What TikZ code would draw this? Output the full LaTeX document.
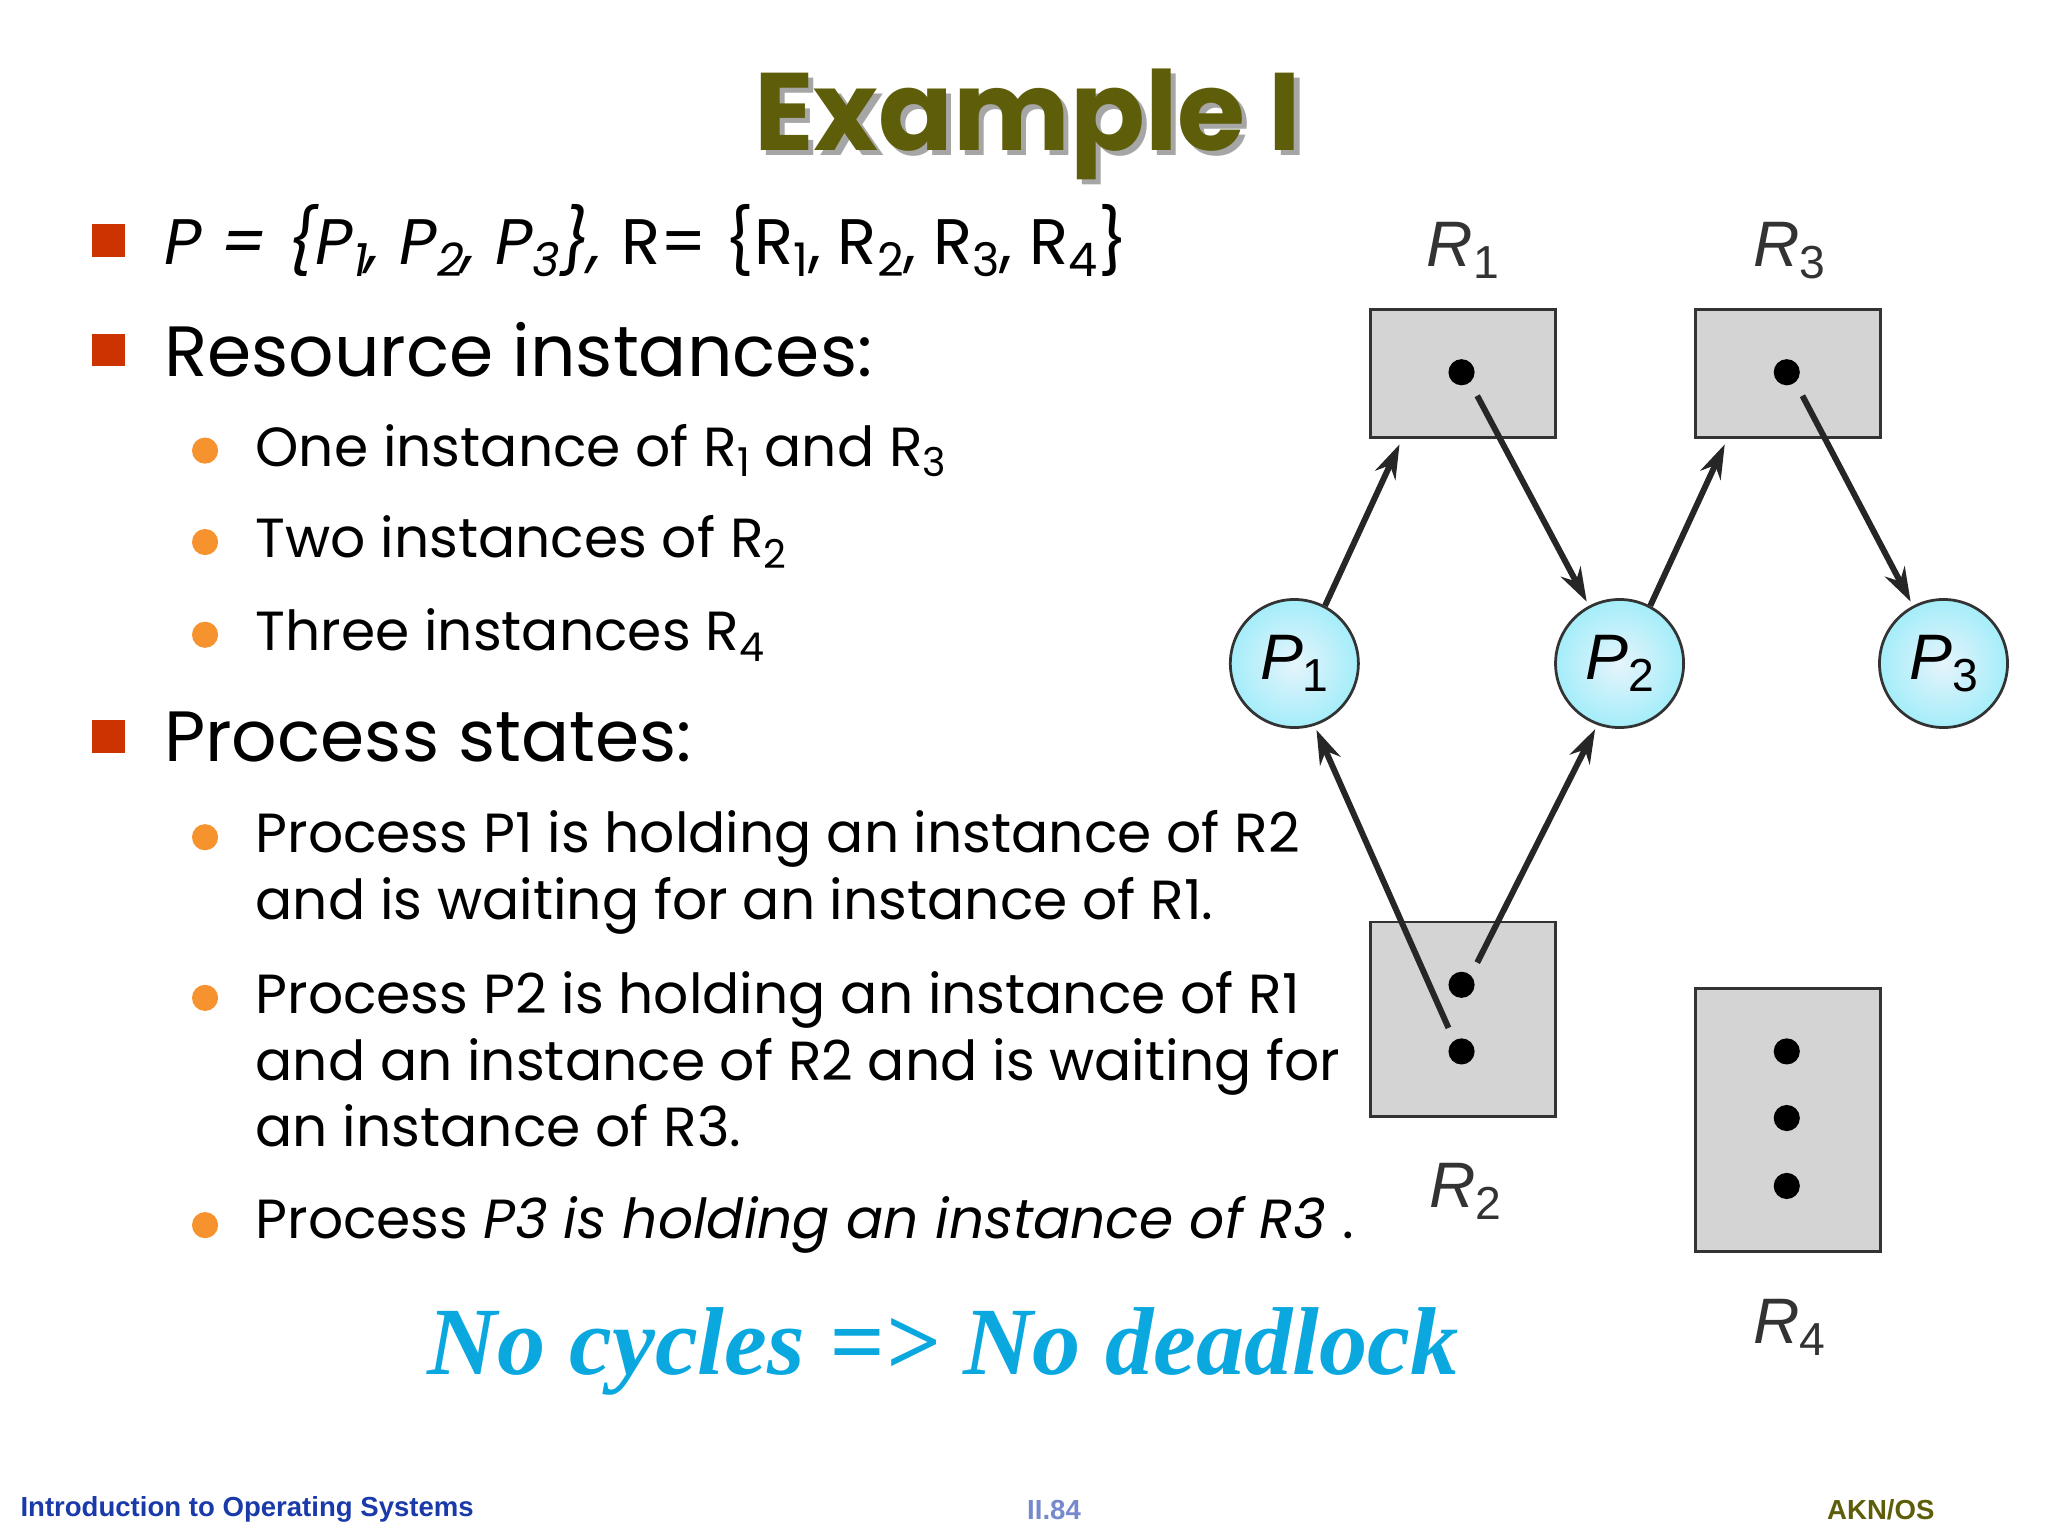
\documentclass[tikz,border=0pt]{standalone}
\usepackage{fontspec}
\setmainfont{Poppins}
\newfontfamily\lib{Liberation Sans}
\newfontfamily\libser{Liberation Serif}
\usetikzlibrary{arrows.meta,calc}
\newcommand{\sbs}[1]{\raisebox{-0.35ex}{\scalebox{0.72}{#1}}}
\definecolor{olive}{HTML}{5E5E0A}
\definecolor{bred}{HTML}{CC3300}
\definecolor{bor}{HTML}{F7932F}
\definecolor{cy}{HTML}{0BA8E0}
\definecolor{fblue}{HTML}{1A3AAA}
\definecolor{pfill}{HTML}{CDE9F8}
\begin{document}
\begin{tikzpicture}[x=0.01cm,y=-0.01cm,
  sq/.style={fill=bred,minimum size=0.25cm,inner sep=0pt},
  ci/.style={circle,fill=bor,minimum size=0.2cm,inner sep=0pt},
  t1/.style={anchor=west,font=\fontsize{15.5}{18}\selectfont,inner sep=0pt},
  t2/.style={anchor=west,font=\fontsize{12}{15}\selectfont,inner sep=0pt,align=left},
  box/.style={draw=black!80,fill=black!17,line width=0.6pt},
  dot/.style={circle,fill=black,minimum size=0.2cm,inner sep=0pt},
  proc/.style={circle,draw=black!80,line width=0.6pt,inner color=pfill!50,outer color=pfill!80!cyan,minimum size=0.98cm,inner sep=0pt,font=\lib\itshape\fontsize{14}{14}\selectfont},
  lab/.style={font=\lib\itshape\fontsize{14}{14}\selectfont,text=black!80},
  arr/.style={-{Stealth[length=0.26cm,width=0.17cm]},line width=1.3pt,black!85,shorten >=1pt}]
\useasboundingbox (0,0) rectangle (1568,1176);
% title
\node[font=\bfseries\fontsize{24}{26}\selectfont,text=black!35] (tsh) at (791,99) {Example I};
\node[font=\bfseries\fontsize{24}{26}\selectfont,text=olive] (title) at (787,95) {Example I};
% bullets
\node[sq] (b1) at (83,184) {};
\node[sq] (b2) at (83,268) {};
\node[sq] (b3) at (83,564) {};
\node[t1,font=\fontsize{14}{18}\selectfont] (l1) at (125,184) {\itshape P = \{P\sbs{1}, P\sbs{2}, P\sbs{3}\}, \upshape R= \{R\sbs{1}, R\sbs{2}, R\sbs{3}, R\sbs{4}\}};
\node[t1] (l2) at (125,268) {Resource instances:};
\node[t1] (l3) at (125,564) {Process states:};
\foreach \y [count=\i] in {345,415,486,641,764,938} \node[ci] (c\i) at (157,\y) {};
\node[t2] (s1) at (195,345) {One instance of R\sbs{1} and R\sbs{3}};
\node[t2] (s2) at (195,415) {Two instances of R\sbs{2}};
\node[t2] (s3) at (195,486) {Three instances R\sbs{4}};
\node[t2,anchor=north west] (s4) at (195,620) {Process P1 is holding an instance of R2\\[-0.5pt]and is waiting for an instance of R1.};
\node[t2,anchor=north west] (s5) at (195,743) {Process P2 is holding an instance of R1\\[-0.5pt]and an instance of R2 and is waiting for\\[-0.5pt]an instance of R3.};
\node[t2] (s6) at (195,938) {Process \itshape P3 is holding an instance of R3 \upshape.};
\node[font=\libser\bfseries\itshape\fontsize{21}{24}\selectfont,text=cy] (nc) at (722,1035) {No cycles => No deadlock};
% footer
\node[anchor=west,font=\lib\bfseries\fontsize{6}{7}\selectfont,text=fblue,inner sep=0pt] (f1) at (15,1156) {Introduction to Operating Systems};
\node[font=\lib\bfseries\fontsize{6}{7}\selectfont,text=fblue!60,inner sep=0pt] (f2) at (807,1156) {II.84};
\node[font=\lib\bfseries\fontsize{6}{7}\selectfont,text=olive,inner sep=0pt] (f3) at (1440,1156) {AKN/OS};
% diagram
\draw[box] (1049,237) rectangle (1191,335);
\draw[box] (1298,237) rectangle (1440,335);
\draw[box] (1049,706) rectangle (1191,855);
\draw[box] (1298,757) rectangle (1440,958);
\node[dot] (d1) at (1119,285) {};
\node[dot] (d3) at (1368,285) {};
\node[dot] (d2a) at (1119,754) {};
\node[dot] (d2b) at (1119,805) {};
\node[dot] (d4a) at (1368,805) {};
\node[dot] (d4b) at (1368,856) {};
\node[dot] (d4c) at (1368,908) {};
\node[lab] (r1) at (1120,192) {R\sbs{\upshape 1}};
\node[lab] (r3) at (1370,192) {R\sbs{\upshape 3}};
\node[lab] (r2) at (1122,912) {R\sbs{\upshape 2}};
\node[lab] (r4) at (1370,1016) {R\sbs{\upshape 4}};
\node[proc] (p1) at (991,508) {P\sbs{\upshape 1}};
\node[proc] (p2) at (1240,508) {P\sbs{\upshape 2}};
\node[proc] (p3) at (1488,508) {P\sbs{\upshape 3}};
\coordinate (r1b) at (1073,337);
\coordinate (r3b) at (1322,337);
\draw[arr] (p1.62) -- (r1b);
\draw[arr] ($(d1)+(12,18)$) -- (p2.118);
\draw[arr] (p2.62) -- (r3b);
\draw[arr] ($(d3)+(12,18)$) -- (p3.118);
\draw[arr] ($(d2b)+(-10,-18)$) -- (p1.-72);
\draw[arr] ($(d2a)+(12,-17)$) -- (p2.-110);
\end{tikzpicture}
\end{document}
